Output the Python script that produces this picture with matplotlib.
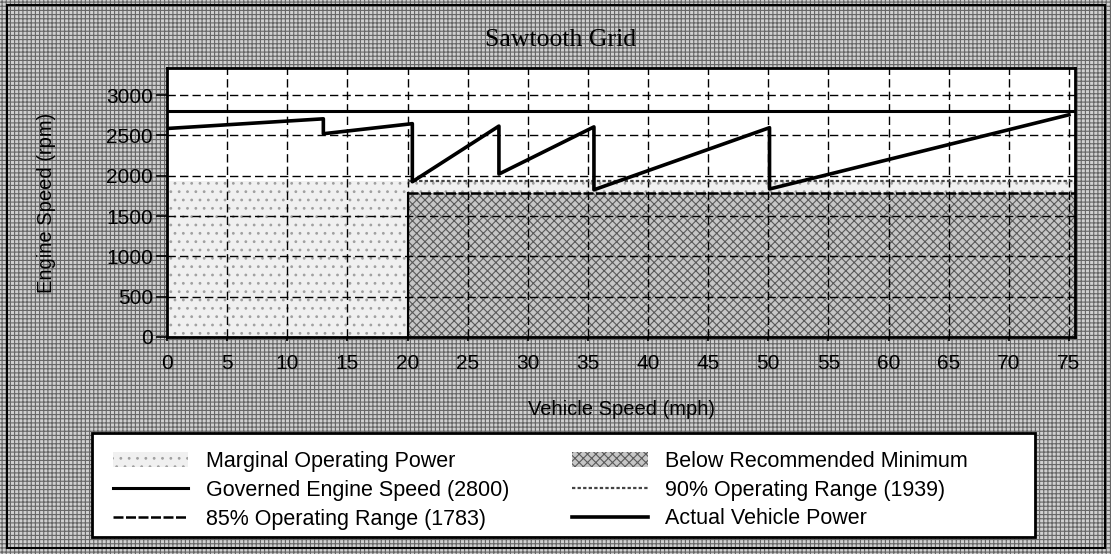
import matplotlib
matplotlib.use("Agg")
from matplotlib import pyplot as plt
from matplotlib.patches import Rectangle

# values
speed_mph = [0, 13, 13, 20.4, 20.4, 27.6, 27.6, 35.5, 35.5, 50.1, 50.1, 75]
engine_rpm = [2585, 2705, 2520, 2645, 1925, 2615, 2020, 2605, 1825, 2595, 1835, 2755]
governed_rpm = 2800
range90_rpm = 1939
range85_rpm = 1783
marginal_end_mph = 20
x_max = 75.5
x_ticks = list(range(0, 80, 5))
y_ticks = list(range(0, 3001, 500))

W, H = 1111, 554

plt.rcParams["font.family"] = ["Liberation Sans", "DejaVu Sans"]
plt.rcParams["hatch.linewidth"] = 0.8

fig = plt.figure(figsize=(W / 100, H / 100), dpi=100)

# scanned grey background + outer border
fig.patches.append(Rectangle((0, 0), 1, 1, transform=fig.transFigure,
                             facecolor="#d0d0d0", edgecolor="#666666", hatch="++++",
                             lw=0, zorder=-10))
fig.patches.append(Rectangle((7 / W, 1 - 548 / H), (1105 - 7) / W, (548 - 5) / H,
                             transform=fig.transFigure, fill=False,
                             edgecolor="black", lw=1.5, zorder=-9))

ax = fig.add_axes([167 / W, 1 - 337 / H, (1075 - 167) / W, (337 - 68) / H])
ax.set_facecolor("white")

marg = ax.fill_between([0, marginal_end_mph], 0, range90_rpm,
                       facecolor="#f0f0f0", edgecolor="#a0a0a0", hatch="..", lw=0,
                       label="Marginal Operating Power")
ax.fill_between([marginal_end_mph, x_max], range85_rpm, range90_rpm,
                facecolor="#f0f0f0", edgecolor="#a0a0a0", hatch="..", lw=0)
below = ax.fill_between([marginal_end_mph, x_max], 0, range85_rpm,
                        facecolor="#c6c6c6", edgecolor="#5a5a5a", hatch="xxxx", lw=0,
                        label="Below Recommended Minimum")
ax.plot([marginal_end_mph, marginal_end_mph], [0, range85_rpm], color="black", lw=1.5)

gov, = ax.plot([0, x_max], [governed_rpm, governed_rpm], color="black", lw=2.2,
               label="Governed Engine Speed (2800)")
r90, = ax.plot([marginal_end_mph, x_max], [range90_rpm, range90_rpm], color="#444444",
               lw=1.6, linestyle=(0, (1.5, 1)), label="90% Operating Range (1939)")
r85, = ax.plot([marginal_end_mph, x_max], [range85_rpm, range85_rpm], color="black",
               lw=1.8, linestyle=(0, (4, 1)), label="85% Operating Range (1783)")
act, = ax.plot(speed_mph, engine_rpm, color="black", lw=2.6,
               label="Actual Vehicle Power")

ax.set_xlim(0, x_max)
ax.set_ylim(0, 3335)
ax.set_xticks(x_ticks)
ax.set_yticks(y_ticks)
ax.grid(True, color="black", linestyle=(0, (6, 3)), linewidth=1.0)
ax.set_axisbelow("line")
for s in ax.spines.values():
    s.set_linewidth(2)
ax.tick_params(axis="y", length=8, width=1.2, pad=2, labelsize=15)
ax.tick_params(axis="x", length=3, width=1.2, pad=9, labelsize=15)

ax.set_ylabel("Engine Speed (rpm)", fontsize=14.5, labelpad=36)
ax.set_xlabel("Vehicle Speed (mph)", fontsize=14.5, labelpad=20)
fig.text(561 / W, 1 - 40 / H, "Sawtooth Grid", family="Liberation Serif",
         fontsize=18.5, ha="center", va="center")

# legend box
fig.patches.append(Rectangle((92 / W, 1 - 537 / H), (1035 - 92) / W, (537 - 433) / H,
                             transform=fig.transFigure, facecolor="white",
                             edgecolor="black", lw=2, zorder=1))
leg = fig.legend([marg, gov, r85, below, r90, act],
                 [h.get_label() for h in [marg, gov, r85, below, r90, act]],
                 ncol=2, loc="upper left", bbox_to_anchor=(113 / W, 1 - 451 / H),
                 frameon=False, fontsize=15.5, borderpad=0, borderaxespad=0,
                 handlelength=3.5, handletextpad=0.8, columnspacing=2.95,
                 labelspacing=0.36)
leg.set_zorder(2)

fig.savefig("out.png", dpi=100)
